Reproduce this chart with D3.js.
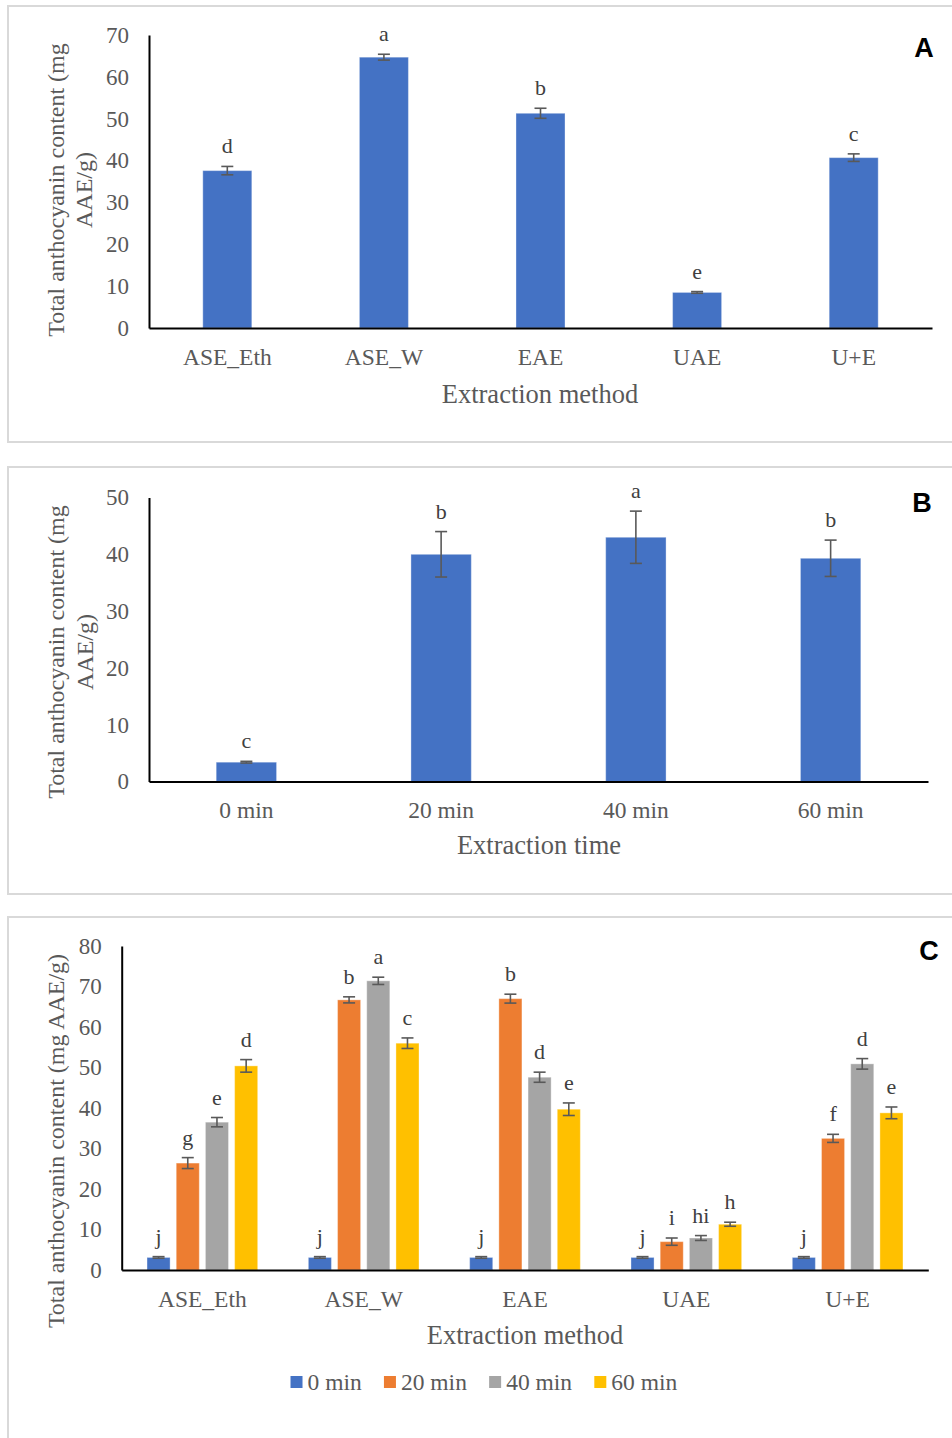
<!DOCTYPE html>
<meta charset="utf-8">
<style>
body { margin: 0; background: #fff; }
svg text { font-family: "Liberation Serif", "Times New Roman", serif; fill: #595959; }
.tick text { font-family: "Liberation Serif", "Times New Roman", serif; font-size: 23px; }
.x-axis .tick text { font-size: 23.5px; }
.domain { stroke: #000; stroke-width: 2px; }
.axis-title { font-size: 26.5px; }
.y-title { font-size: 24px; }
.sig { font-size: 22px; fill: #404040; }
.tag { font-family: "Liberation Sans", Arial, sans-serif; font-weight: bold; font-size: 27px; fill: #000 !important; }
.err { stroke: #595959; stroke-width: 1.6px; }
.frame { fill: none; stroke: #d9d9d9; stroke-width: 2px; }
.legend text { font-size: 23.5px; }
</style>
<body>
<svg id="chart" width="952" height="1438"></svg>

<script src="https://d3js.org/d3.v7.min.js"></script>
<script>

// ---- panel A: extraction method ----
var methods = ["ASE_Eth", "ASE_W", "EAE", "UAE", "U+E"];
var methodMeans = [37.6, 64.7, 51.3, 8.5, 40.7];
var methodErrors = [1.0, 0.7, 1.2, 0.2, 0.9];
var methodLetters = ["d", "a", "b", "e", "c"];
var ticksA = [0, 10, 20, 30, 40, 50, 60, 70];

// ---- panel B: extraction time ----
var times = ["0 min", "20 min", "40 min", "60 min"];
var timeMeans = [3.4, 40.0, 43.0, 39.3];
var timeErrors = [0.15, 4.0, 4.6, 3.2];
var timeLetters = ["c", "b", "a", "b"];
var ticksB = [0, 10, 20, 30, 40, 50];

// ---- panel C: method x time ----
var means0 = [3.1, 3.1, 3.1, 3.1, 3.1];
var errors0 = [0.2, 0.2, 0.2, 0.2, 0.2];
var letters0 = ["j", "j", "j", "j", "j"];
var means20 = [26.4, 66.7, 67.0, 7.0, 32.5];
var errors20 = [1.35, 0.75, 1.1, 0.9, 1.0];
var letters20 = ["g", "b", "b", "i", "f"];
var means40 = [36.5, 71.4, 47.6, 7.9, 50.9];
var errors40 = [1.15, 0.9, 1.25, 0.6, 1.3];
var letters40 = ["e", "a", "d", "hi", "d"];
var means60 = [50.4, 56.0, 39.7, 11.3, 38.8];
var errors60 = [1.55, 1.3, 1.55, 0.5, 1.45];
var letters60 = ["d", "c", "e", "h", "e"];
var ticksC = [0, 10, 20, 30, 40, 50, 60, 70, 80];

var blue = "#4472c4", orange = "#ed7d31", grey = "#a5a5a5", gold = "#ffc000";

var svg = d3.select("#chart");

function drawPanel(p) {
  var g = svg.append("g");

  g.append("rect")
      .attr("class", "frame")
      .attr("x", 8)
      .attr("y", p.frameTop)
      .attr("width", 1000)
      .attr("height", p.frameBottom - p.frameTop);

  var x = d3.scaleBand()
      .domain(p.categories)
      .range([p.left, p.right])
      .paddingInner(p.pad)
      .paddingOuter(p.pad / 2);

  var y = d3.scaleLinear()
      .domain([0, p.yMax])
      .range([p.bottom, p.top]);

  var sub = d3.scaleBand()
      .domain(p.series.map(function(s) { return s.name; }))
      .range([0, x.bandwidth()])
      .paddingInner(p.subPad || 0);

  p.series.forEach(function(s) {
    var rows = p.categories.map(function(c, i) {
      return {cat: c, v: s.means[i], e: s.errors[i], l: s.letters[i]};
    });
    var cx = function(d) { return x(d.cat) + sub(s.name) + sub.bandwidth() / 2; };
    var sg = g.append("g");

    sg.selectAll("rect")
      .data(rows)
      .enter().append("rect")
        .attr("x", function(d) { return x(d.cat) + sub(s.name); })
        .attr("y", function(d) { return y(d.v); })
        .attr("width", sub.bandwidth())
        .attr("height", function(d) { return y(0) - y(d.v); })
        .attr("fill", s.color)
        .attr("stroke", "#fff")
        .attr("stroke-opacity", 0.35)
        .attr("stroke-width", 1);

    // error bars
    var eb = sg.selectAll("g.eb")
      .data(rows)
      .enter().append("g")
        .attr("class", "eb");
    eb.append("line").attr("class", "err")
        .attr("x1", cx).attr("x2", cx)
        .attr("y1", function(d) { return y(d.v + d.e); })
        .attr("y2", function(d) { return y(d.v - d.e); });
    eb.append("line").attr("class", "err")
        .attr("x1", function(d) { return cx(d) - 6; })
        .attr("x2", function(d) { return cx(d) + 6; })
        .attr("y1", function(d) { return y(d.v + d.e); })
        .attr("y2", function(d) { return y(d.v + d.e); });
    eb.append("line").attr("class", "err")
        .attr("x1", function(d) { return cx(d) - 6; })
        .attr("x2", function(d) { return cx(d) + 6; })
        .attr("y1", function(d) { return y(d.v - d.e); })
        .attr("y2", function(d) { return y(d.v - d.e); });

    // significance letters
    sg.selectAll("text.sig")
      .data(rows)
      .enter().append("text")
        .attr("class", "sig")
        .attr("text-anchor", "middle")
        .attr("x", cx)
        .attr("y", function(d) { return y(d.v + d.e) - 13; })
        .text(function(d) { return d.l; });
  });

  g.append("g")
      .attr("class", "x-axis")
      .attr("transform", "translate(0," + y(0) + ")")
      .call(d3.axisBottom(x).tickSize(0).tickPadding(20));

  g.append("g")
      .attr("class", "y-axis")
      .attr("transform", "translate(" + p.left + ",0)")
      .call(d3.axisLeft(y).tickValues(p.yTicks).tickSize(0).tickPadding(20));

  g.append("text")
      .attr("class", "axis-title")
      .attr("text-anchor", "middle")
      .attr("x", p.xTitleX)
      .attr("y", p.xTitleY)
      .text(p.xTitle);

  p.yTitle.forEach(function(line, i) {
    g.append("text")
        .attr("class", "y-title")
        .attr("text-anchor", "middle")
        .attr("transform", "translate(" + p.yTitleX[i] + "," + p.yTitleY + ") rotate(-90)")
        .text(line);
  });

  g.append("text")
      .attr("class", "tag")
      .attr("text-anchor", "middle")
      .attr("x", p.tagX)
      .attr("y", p.tagY)
      .text(p.tag);
}

drawPanel({
  frameTop: 6, frameBottom: 442,
  left: 149, right: 932, top: 35, bottom: 328,
  yMax: 70, yTicks: ticksA, pad: 0.687,
  categories: methods,
  series: [{name: "s", color: blue, means: methodMeans, errors: methodErrors, letters: methodLetters}],
  xTitle: "Extraction method", xTitleX: 540, xTitleY: 403,
  yTitle: ["Total anthocyanin content (mg", "AAE/g)"], yTitleX: [64, 92], yTitleY: 190,
  tag: "A", tagX: 924, tagY: 57
});

drawPanel({
  frameTop: 467, frameBottom: 894,
  left: 149, right: 928, top: 497.5, bottom: 781.5,
  yMax: 50, yTicks: ticksB, pad: 0.69,
  categories: times,
  series: [{name: "s", color: blue, means: timeMeans, errors: timeErrors, letters: timeLetters}],
  xTitle: "Extraction time", xTitleX: 539, xTitleY: 854,
  yTitle: ["Total anthocyanin content (mg", "AAE/g)"], yTitleX: [64, 93], yTitleY: 652,
  tag: "B", tagX: 922, tagY: 512
});

var seriesC = [
  {name: "0 min", color: blue, means: means0, errors: errors0, letters: letters0},
  {name: "20 min", color: orange, means: means20, errors: errors20, letters: letters20},
  {name: "40 min", color: grey, means: means40, errors: errors40, letters: letters40},
  {name: "60 min", color: gold, means: means60, errors: errors60, letters: letters60}
];

drawPanel({
  frameTop: 917, frameBottom: 1460,
  left: 121.7, right: 928.3, top: 946, bottom: 1270,
  yMax: 80, yTicks: ticksC, pad: 0.314, subPad: 0.21,
  categories: methods,
  series: seriesC,
  xTitle: "Extraction method", xTitleX: 525, xTitleY: 1344,
  yTitle: ["Total anthocyanin content (mg AAE/g)"], yTitleX: [64], yTitleY: 1141,
  tag: "C", tagX: 929, tagY: 960
});

// legend for panel C, centred on the chart area
var legend = svg.append("g").attr("class", "legend");
var items = legend.selectAll("g")
  .data(seriesC)
  .enter().append("g");
items.append("rect")
    .attr("width", 12).attr("height", 12)
    .attr("y", -6)
    .attr("fill", function(d) { return d.color; });
items.append("text")
    .attr("x", 17)
    .attr("dy", "0.35em")
    .text(function(d) { return d.name; });

var pos = 0;
items.each(function() {
  var w = this.getBBox().width;
  d3.select(this).attr("transform", "translate(" + pos + ",0)");
  pos += w + 22;
});
var total = pos - 22;
legend.attr("transform", "translate(" + (484 - total / 2) + ",1382)");

</script>
</body>
